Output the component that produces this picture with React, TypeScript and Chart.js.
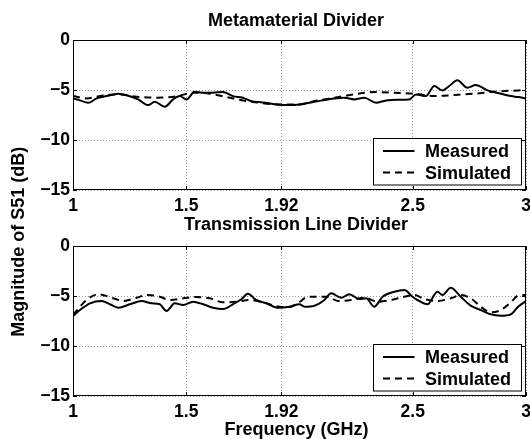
import React, { useEffect, useRef } from "react";
import { Chart, registerables } from "chart.js";
Chart.register(...registerables);

// ---------- data ----------
const xTickValues = [1, 1.5, 1.92, 2.5, 3];
const yTickValues = [0, -5, -10, -15];
const seriesLabels = ["Measured", "Simulated"];
const panelTitles = ["Metamaterial Divider", "Transmission Line Divider"];
const xAxisTitle = "Frequency (GHz)";
const yAxisTitle = "Magnitude of S51 (dB)";

const metaMeasuredFreq = [1.0, 1.031, 1.067, 1.104, 1.148, 1.2, 1.244, 1.288, 1.332, 1.361, 1.405, 1.442, 1.471, 1.501, 1.537, 1.574, 1.618, 1.662, 1.706, 1.75, 1.787, 1.838, 1.897, 1.956, 2.0, 2.066, 2.154, 2.198, 2.242, 2.286, 2.338, 2.382, 2.433, 2.485, 2.514, 2.558, 2.595, 2.631, 2.661, 2.697, 2.741, 2.778, 2.83, 2.889, 2.933, 2.965, 3.0];
const metaMeasuredDb = [-5.84, -6.04, -6.28, -5.84, -5.61, -5.37, -5.57, -5.94, -6.51, -6.18, -6.68, -5.94, -5.61, -5.94, -5.17, -5.27, -5.27, -5.2, -5.61, -5.77, -6.11, -6.24, -6.44, -6.51, -6.44, -6.18, -5.84, -5.77, -5.94, -5.77, -6.28, -6.04, -5.97, -5.94, -5.44, -5.61, -4.6, -5.04, -4.6, -4.03, -4.77, -4.5, -5.04, -5.37, -5.61, -5.71, -5.85];

const metaSimulatedFreq = [1.0, 1.06, 1.132, 1.2, 1.281, 1.369, 1.457, 1.53, 1.604, 1.677, 1.75, 1.824, 1.912, 2.0, 2.066, 2.154, 2.242, 2.33, 2.419, 2.507, 2.595, 2.683, 2.771, 2.859, 2.965, 3.0];
const metaSimulatedDb = [-5.61, -5.84, -5.54, -5.44, -5.67, -5.77, -5.64, -5.27, -5.37, -5.71, -6.04, -6.28, -6.44, -6.44, -6.11, -5.77, -5.44, -5.2, -5.27, -5.37, -5.61, -5.5, -5.37, -5.17, -5.04, -5.0];

const tlineMeasuredFreq = [1.0, 1.031, 1.075, 1.126, 1.163, 1.2, 1.251, 1.303, 1.347, 1.383, 1.413, 1.449, 1.486, 1.53, 1.574, 1.618, 1.662, 1.706, 1.743, 1.772, 1.809, 1.853, 1.904, 1.956, 2.0, 2.022, 2.066, 2.11, 2.14, 2.184, 2.22, 2.264, 2.294, 2.33, 2.367, 2.419, 2.463, 2.499, 2.521, 2.565, 2.609, 2.631, 2.668, 2.712, 2.756, 2.8, 2.844, 2.889, 2.933, 2.965, 3.0];
const tlineMeasuredDb = [-7.0, -6.4, -5.73, -5.5, -5.83, -6.17, -5.83, -5.5, -5.73, -5.83, -6.5, -5.73, -5.9, -5.57, -5.83, -6.17, -6.3, -5.83, -5.33, -4.77, -5.4, -5.73, -6.17, -6.07, -5.83, -6.07, -5.97, -5.4, -4.73, -5.17, -4.83, -5.3, -5.23, -6.07, -5.07, -4.57, -4.4, -5.07, -5.4, -5.83, -4.57, -4.9, -4.17, -5.07, -5.97, -6.4, -6.83, -6.97, -6.83, -6.07, -5.5];

const tlineSimulatedFreq = [1.0, 1.06, 1.111, 1.178, 1.222, 1.281, 1.325, 1.383, 1.427, 1.486, 1.545, 1.604, 1.662, 1.721, 1.78, 1.838, 1.912, 1.956, 2.0, 2.037, 2.125, 2.169, 2.228, 2.286, 2.345, 2.404, 2.463, 2.507, 2.551, 2.609, 2.668, 2.712, 2.756, 2.8, 2.844, 2.889, 2.933, 2.965, 3.0];
const tlineSimulatedDb = [-6.9, -5.4, -4.83, -5.23, -5.5, -5.17, -4.9, -5.07, -5.4, -5.23, -5.1, -5.23, -5.63, -5.57, -5.4, -5.63, -6.07, -6.1, -5.6, -5.07, -5.07, -5.5, -5.4, -5.17, -5.57, -5.4, -5.07, -4.9, -5.3, -5.5, -5.23, -4.9, -5.23, -6.07, -6.63, -6.4, -5.63, -4.97, -4.9];

// ---------- layout ----------
const W = 530;
const H = 439;
const FONT = "'Liberation Sans', Arial, Helvetica, sans-serif";

const panels = [
  { top: 40, bottom: 190, xAxisH: 25, measF: metaMeasuredFreq, measD: metaMeasuredDb, simF: metaSimulatedFreq, simD: metaSimulatedDb, title: panelTitles[0], titleBase: 26 },
  { top: 246, bottom: 396, xAxisH: 43, measF: tlineMeasuredFreq, measD: tlineMeasuredDb, simF: tlineSimulatedFreq, simD: tlineSimulatedDb, title: panelTitles[1], titleBase: 230 },
];

const toPoints = (f: number[], d: number[]) => f.map((x, i) => ({ x, y: d[i] }));

function makeConfig(idx: number): any {
  const p = panels[idx];
  const tickFont = { family: FONT, size: 17.5, weight: "bold" as const };

  const framePlugin = {
    id: "frame" + idx,
    afterDatasetsDraw(chart: any) {
      const ctx = chart.ctx;
      const { left, top, right, bottom } = chart.chartArea;
      const xs = chart.scales.x;
      const ys = chart.scales.y;
      ctx.save();
      ctx.strokeStyle = "#000";
      ctx.lineWidth = 1;
      ctx.setLineDash([]);
      ctx.strokeRect(Math.round(left) + 0.5, Math.round(top) + 0.5, Math.round(right - left) - 1, Math.round(bottom - top) - 1);
      ctx.beginPath();
      const tl = 4;
      for (const v of xTickValues) {
        const px = Math.round(xs.getPixelForValue(v)) + 0.5;
        ctx.moveTo(px, bottom);
        ctx.lineTo(px, bottom - tl);
        ctx.moveTo(px, top);
        ctx.lineTo(px, top + tl);
      }
      for (const v of yTickValues) {
        const py = Math.round(ys.getPixelForValue(v)) + 0.5;
        ctx.moveTo(left, py);
        ctx.lineTo(left + tl, py);
        ctx.moveTo(right, py);
        ctx.lineTo(right - tl, py);
      }
      ctx.stroke();

      // legend box
      const lx = 373.5;
      const lr = right - 4.5;
      const lb = bottom - 5;
      const lt = lb - 46.5;
      ctx.fillStyle = "#fff";
      ctx.fillRect(lx, lt, lr - lx, lb - lt);
      ctx.strokeRect(lx, lt, lr - lx, lb - lt);
      ctx.lineWidth = 2;
      ctx.beginPath();
      ctx.moveTo(lx + 9.5, lt + 12.5);
      ctx.lineTo(lx + 41, lt + 12.5);
      ctx.stroke();
      ctx.setLineDash([7, 5]);
      ctx.beginPath();
      ctx.moveTo(lx + 9.5, lt + 34);
      ctx.lineTo(lx + 41, lt + 34);
      ctx.stroke();
      ctx.setLineDash([]);
      ctx.fillStyle = "#000";
      ctx.font = `bold 18px ${FONT}`;
      ctx.textAlign = "left";
      ctx.textBaseline = "alphabetic";
      ctx.fillText(seriesLabels[0], lx + 51.5, lt + 18.5);
      ctx.fillText(seriesLabels[1], lx + 51.5, lt + 40);
      ctx.restore();
    },
    afterDraw(chart: any) {
      const ctx = chart.ctx;
      ctx.save();
      ctx.fillStyle = "#000";
      ctx.font = `bold 18px ${FONT}`;
      ctx.textAlign = "center";
      ctx.textBaseline = "alphabetic";
      ctx.fillText(p.title, 296, p.titleBase);
      if (idx === 0) {
        ctx.translate(24, 241.7);
        ctx.rotate(-Math.PI / 2);
        ctx.fillText(yAxisTitle, 0, 0);
      } else {
        ctx.fillText(xAxisTitle, 296.5, 435);
      }
      ctx.restore();
    },
  };

  return {
    type: "line",
    data: {
      datasets: [
        {
          label: seriesLabels[0],
          data: toPoints(p.measF, p.measD),
          borderColor: "#000",
          borderWidth: 2,
          pointRadius: 0,
          cubicInterpolationMode: "monotone",
          borderJoinStyle: "round",
          fill: false,
        },
        {
          label: seriesLabels[1],
          data: toPoints(p.simF, p.simD),
          borderColor: "#000",
          borderWidth: 2,
          borderDash: [7, 5],
          pointRadius: 0,
          cubicInterpolationMode: "monotone",
          fill: false,
        },
      ],
    },
    options: {
      responsive: false,
      animation: false,
      devicePixelRatio: 1,
      events: [],
      layout: {
        padding: { left: 0, right: W - 526, top: p.top, bottom: H - (p.bottom + p.xAxisH) },
      },
      plugins: { legend: { display: false }, title: { display: false }, tooltip: { enabled: false } },
      scales: {
        x: {
          type: "linear",
          min: 1,
          max: 3,
          afterBuildTicks: (s: any) => {
            s.ticks = xTickValues.map((v) => ({ value: v }));
          },
          afterFit: (s: any) => {
            s.height = p.xAxisH;
            s.paddingLeft = 0;
            s.paddingRight = 0;
          },
          ticks: {
            autoSkip: false,
            maxRotation: 0,
            minRotation: 0,
            padding: 6,
            color: "#000",
            font: tickFont,
            callback: (v: any) => String(v),
          },
          grid: { color: "#9a9a9a", lineWidth: 1, drawTicks: false, borderDash: [1, 2] },
          border: { display: false, dash: [1, 2] },
        },
        y: {
          type: "linear",
          min: -15,
          max: 0,
          afterBuildTicks: (s: any) => {
            s.ticks = yTickValues.map((v) => ({ value: v }));
          },
          afterFit: (s: any) => {
            s.width = 73;
            s.paddingTop = 0;
            s.paddingBottom = 0;
          },
          ticks: {
            padding: 3,
            color: "#000",
            font: tickFont,
            callback: (v: any) => (v === 0 ? "0" : "\u2212" + Math.abs(v)),
          },
          grid: { color: "#9a9a9a", lineWidth: 1, drawTicks: false, borderDash: [1, 2] },
          border: { display: false, dash: [1, 2] },
        },
      },
    },
    plugins: [framePlugin],
  };
}

export default function App() {
  const ref1 = useRef<HTMLCanvasElement>(null);
  const ref2 = useRef<HTMLCanvasElement>(null);
  useEffect(() => {
    const c1 = new Chart(ref1.current as HTMLCanvasElement, makeConfig(0));
    const c2 = new Chart(ref2.current as HTMLCanvasElement, makeConfig(1));
    return () => {
      c1.destroy();
      c2.destroy();
    };
  }, []);
  return (
    <div style={{ position: "absolute", left: 0, top: 0, width: W, height: H, background: "#fff" }}>
      <canvas ref={ref1} width={W} height={H} style={{ position: "absolute", left: 0, top: 0 }} />
      <canvas ref={ref2} width={W} height={H} style={{ position: "absolute", left: 0, top: 0 }} />
    </div>
  );
}
